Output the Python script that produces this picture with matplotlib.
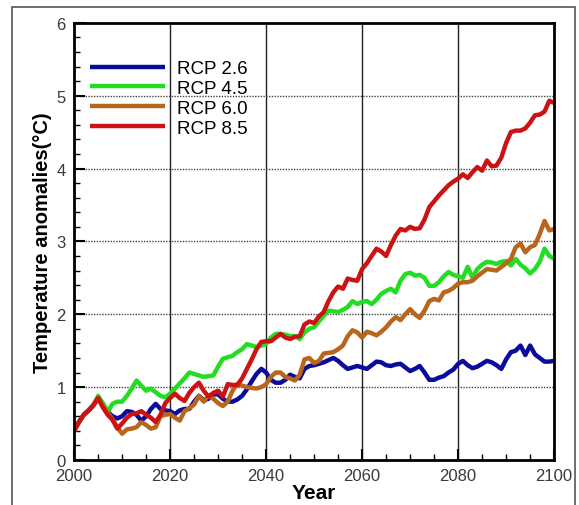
"""
Temperature anomaly projections 2000-2100 for four RCP scenarios
"""
import numpy as np
import matplotlib
matplotlib.use("Agg")
import matplotlib.pyplot as plt
from matplotlib.patches import Rectangle
from matplotlib.ticker import MultipleLocator

plt.rcParams['font.family'] = ['Liberation Sans', 'DejaVu Sans']

# shared historical part, 2000-2004
hist = [0.40, 0.52, 0.62, 0.68, 0.75]

# projections, one value per year 2005-2100 (one row per decade)
rcp26 = [0.85, 0.74, 0.66, 0.60, 0.57, 0.60, 0.67, 0.66, 0.62, 0.54,
         0.60, 0.70, 0.77, 0.70, 0.68, 0.67, 0.63, 0.68, 0.70, 0.70,
         0.80, 0.88, 0.82, 0.84, 0.90, 0.90, 0.84, 0.80, 0.80, 0.83,
         0.88, 0.97, 1.08, 1.18, 1.25, 1.20, 1.10, 1.06, 1.06, 1.10,
         1.17, 1.14, 1.12, 1.25, 1.29, 1.30, 1.32, 1.34, 1.37, 1.40,
         1.36, 1.30, 1.25, 1.27, 1.29, 1.27, 1.25, 1.30, 1.35, 1.34,
         1.30, 1.29, 1.31, 1.32, 1.27, 1.22, 1.25, 1.29, 1.20, 1.10,
         1.10, 1.13, 1.15, 1.20, 1.24, 1.32, 1.36, 1.30, 1.26, 1.28,
         1.32, 1.36, 1.34, 1.30, 1.25, 1.38, 1.48, 1.50, 1.57, 1.44,
         1.57, 1.45, 1.40, 1.35, 1.35, 1.36]

rcp45 = [0.88, 0.78, 0.66, 0.77, 0.80, 0.80, 0.88, 0.98, 1.09, 1.02,
         0.95, 0.98, 0.93, 0.88, 0.86, 0.91, 0.98, 1.05, 1.12, 1.20,
         1.18, 1.16, 1.14, 1.15, 1.16, 1.28, 1.39, 1.41, 1.43, 1.48,
         1.52, 1.59, 1.57, 1.55, 1.57, 1.59, 1.68, 1.73, 1.73, 1.72,
         1.70, 1.70, 1.66, 1.75, 1.80, 1.82, 1.90, 1.98, 2.05, 2.04,
         2.03, 2.06, 2.10, 2.18, 2.14, 2.17, 2.18, 2.14, 2.20, 2.28,
         2.32, 2.35, 2.30, 2.46, 2.55, 2.57, 2.53, 2.54, 2.50, 2.39,
         2.39, 2.44, 2.52, 2.58, 2.54, 2.52, 2.50, 2.65, 2.50, 2.62,
         2.68, 2.72, 2.71, 2.69, 2.72, 2.73, 2.67, 2.76, 2.68, 2.63,
         2.56, 2.62, 2.72, 2.90, 2.80, 2.76]

rcp60 = [0.85, 0.74, 0.65, 0.56, 0.45, 0.36, 0.42, 0.43, 0.45, 0.52,
         0.48, 0.43, 0.45, 0.60, 0.62, 0.63, 0.58, 0.54, 0.67, 0.71,
         0.76, 0.88, 0.80, 0.88, 0.84, 0.78, 0.74, 0.80, 0.95, 1.04,
         1.02, 1.00, 0.99, 0.98, 1.00, 1.04, 1.14, 1.20, 1.20, 1.14,
         1.12, 1.09, 1.17, 1.38, 1.40, 1.33, 1.36, 1.46, 1.47, 1.48,
         1.52, 1.57, 1.70, 1.78, 1.75, 1.68, 1.76, 1.74, 1.71, 1.76,
         1.82, 1.90, 1.96, 1.92, 2.00, 2.07, 2.00, 1.95, 2.05, 2.18,
         2.21, 2.19, 2.30, 2.32, 2.36, 2.42, 2.44, 2.44, 2.46, 2.52,
         2.57, 2.62, 2.61, 2.60, 2.65, 2.70, 2.76, 2.92, 2.97, 2.85,
         2.92, 2.95, 3.10, 3.28, 3.15, 3.17]

rcp85 = [0.85, 0.72, 0.62, 0.55, 0.43, 0.50, 0.58, 0.63, 0.64, 0.67,
         0.62, 0.58, 0.52, 0.62, 0.78, 0.85, 0.91, 0.85, 0.81, 0.92,
         1.00, 1.06, 0.95, 0.87, 0.92, 0.95, 0.87, 1.04, 1.03, 1.03,
         1.12, 1.25, 1.38, 1.52, 1.62, 1.63, 1.63, 1.68, 1.73, 1.68,
         1.66, 1.69, 1.70, 1.86, 1.90, 1.88, 1.97, 2.03, 2.18, 2.30,
         2.38, 2.35, 2.49, 2.47, 2.46, 2.62, 2.70, 2.80, 2.90, 2.86,
         2.80, 2.95, 3.08, 3.17, 3.15, 3.20, 3.17, 3.18, 3.30, 3.47,
         3.55, 3.63, 3.70, 3.77, 3.82, 3.86, 3.92, 3.87, 3.95, 4.02,
         3.97, 4.11, 4.03, 4.04, 4.15, 4.35, 4.50, 4.52, 4.52, 4.55,
         4.63, 4.73, 4.74, 4.78, 4.93, 4.90]

labels = ['RCP 2.6', 'RCP 4.5', 'RCP 6.0', 'RCP 8.5']
colors = ['#0c0c9c', '#22dd22', '#b8661c', '#cc1212']

years = np.arange(2000, 2101)

fig = plt.figure(figsize=(5.79, 5.06), dpi=100)
ax = fig.add_axes([0.128, 0.089, 0.829, 0.864])

# outer frame around the whole picture
fig.patches.append(Rectangle((0.021, -0.05), 0.972, 1.034, transform=fig.transFigure,
                             fill=False, edgecolor='#555555', linewidth=1.2))

for vals, lab, col in zip([rcp26, rcp45, rcp60, rcp85], labels, colors):
    ax.plot(years, hist + vals, color=col, lw=3.2, label=lab, solid_capstyle='butt')

ax.set_xlim(2000, 2100)
ax.set_ylim(0, 6)
ax.xaxis.set_major_locator(MultipleLocator(20))
ax.xaxis.set_minor_locator(MultipleLocator(5))
ax.yaxis.set_major_locator(MultipleLocator(1))
ax.yaxis.set_minor_locator(MultipleLocator(0.2))

for x in [2020, 2040, 2060, 2080]:
    ax.axvline(x, color='#222222', lw=1, zorder=0.5)
for y in [1, 2, 3, 4, 5]:
    ax.axhline(y, color='#444444', lw=1, ls=(0, (1, 1)), zorder=0.5)

ax.tick_params(which='major', direction='in', length=8, width=1.5, labelsize=12,
               labelcolor='#3a3a3a', pad=6)
ax.tick_params(which='minor', direction='in', length=4.5, width=1)
ax.tick_params(axis='x', which='both', top=False)
for s in ax.spines.values():
    s.set_linewidth(2)

ax.set_xlabel('Year', fontsize=15, fontweight='bold', labelpad=0)
ax.set_ylabel('Temperature anomalies(\u00b0C)', fontsize=14.5, fontweight='bold', labelpad=3)

ax.legend(loc='upper left', bbox_to_anchor=(0.033, 0.915), frameon=False, fontsize=13.5,
          handlelength=4.0, handletextpad=0.65, labelspacing=0.15, borderpad=0,
          borderaxespad=0)

fig.savefig('out.png', dpi=100)
